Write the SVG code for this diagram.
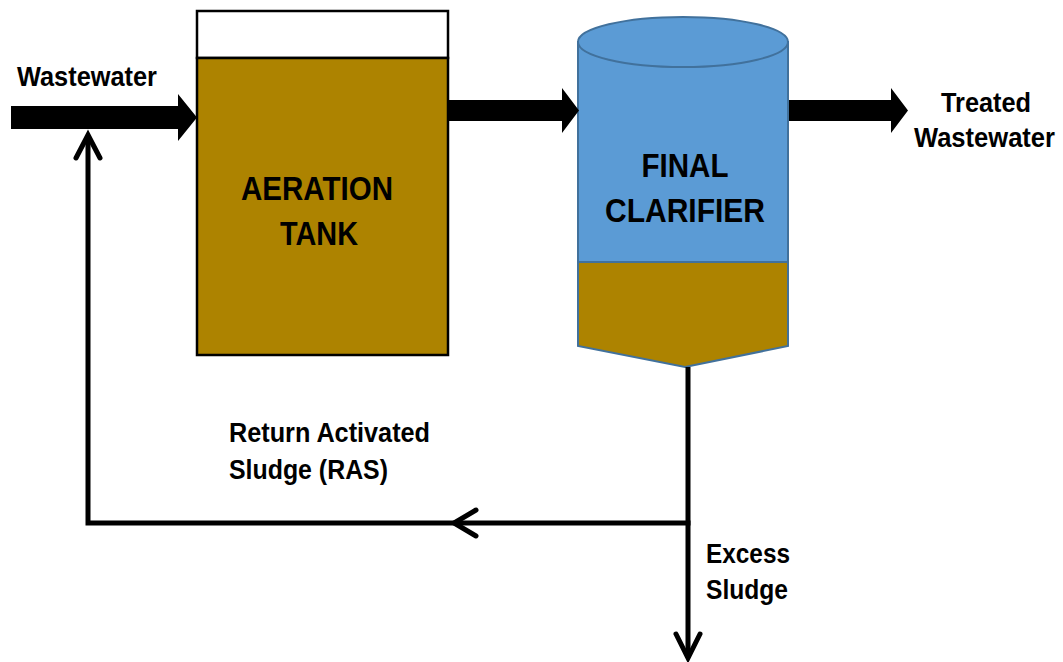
<svg xmlns="http://www.w3.org/2000/svg" width="1063" height="662" viewBox="0 0 1063 662">
  <style>
    .lbl { font-family: "Liberation Sans", Arial, sans-serif; font-weight: bold; font-size: 27px; fill: #000; }
    .big { font-family: "Liberation Sans", Arial, sans-serif; font-weight: bold; font-size: 34px; fill: #000; text-anchor: middle; }
    .flow { fill: #000; stroke: none; }
    .line { fill: none; stroke: #000; stroke-width: 5; }
    .chev { fill: none; stroke: #000; stroke-width: 5; stroke-linecap: round; stroke-linejoin: miter; }
    .sludge { fill: #AD8300; }
  </style>
  <rect width="1063" height="662" fill="#fff"/>

  <g id="aeration-tank">
    <rect x="197" y="11" width="251" height="47" fill="#fff" stroke="#000" stroke-width="2.5"/>
    <rect x="197" y="58" width="251" height="297" class="sludge" stroke="#000" stroke-width="2.5"/>
    <text class="big" x="317" y="200" textLength="152" lengthAdjust="spacingAndGlyphs">AERATION</text>
    <text class="big" x="319" y="245" textLength="78" lengthAdjust="spacingAndGlyphs">TANK</text>
  </g>

  <g id="final-clarifier">
    <path d="M578,42 V262 H788 V42 Z" fill="#5B9BD5" stroke="#41719C" stroke-width="2"/>
    <path d="M578,262 V346 L685,367 L788,346 V262 Z" class="sludge" stroke="#41719C" stroke-width="2"/>
    <ellipse cx="683" cy="42" rx="105" ry="25" fill="#5B9BD5" stroke="#41719C" stroke-width="2"/>
    <text class="big" x="685" y="177" textLength="87" lengthAdjust="spacingAndGlyphs">FINAL</text>
    <text class="big" x="685" y="222" textLength="160" lengthAdjust="spacingAndGlyphs">CLARIFIER</text>
  </g>

  <g id="labels">
    <text class="lbl" x="17" y="86" textLength="140" lengthAdjust="spacingAndGlyphs">Wastewater</text>
    <text class="lbl" x="941" y="112" textLength="90" lengthAdjust="spacingAndGlyphs">Treated</text>
    <text class="lbl" x="914" y="147" textLength="141" lengthAdjust="spacingAndGlyphs">Wastewater</text>
    <text class="lbl" x="229" y="442" textLength="201" lengthAdjust="spacingAndGlyphs">Return Activated</text>
    <text class="lbl" x="229" y="479" textLength="159" lengthAdjust="spacingAndGlyphs">Sludge (RAS)</text>
    <text class="lbl" x="706" y="563" textLength="84" lengthAdjust="spacingAndGlyphs">Excess</text>
    <text class="lbl" x="706" y="599" textLength="82" lengthAdjust="spacingAndGlyphs">Sludge</text>
  </g>

  <g id="connectors">
    <polygon class="flow" points="11,106 178,106 178,94 197,117.5 178,141 178,129 11,129"/>
    <polygon class="flow" points="449,100 562,100 562,88 579,110.5 562,133 562,121 449,121"/>
    <polygon class="flow" points="789,100 891,100 891,88 908,110.5 891,133 891,121 789,121"/>
    <path class="line" d="M688,367 V658"/>
    <path class="line" d="M690.5,523 H88 V135"/>
    <polyline class="chev" points="676,634 688,658 700,634"/>
    <polyline class="chev" points="476,510 454,523 476,536"/>
    <polyline class="chev" points="76,158 88,135 100,158"/>
  </g>
</svg>
